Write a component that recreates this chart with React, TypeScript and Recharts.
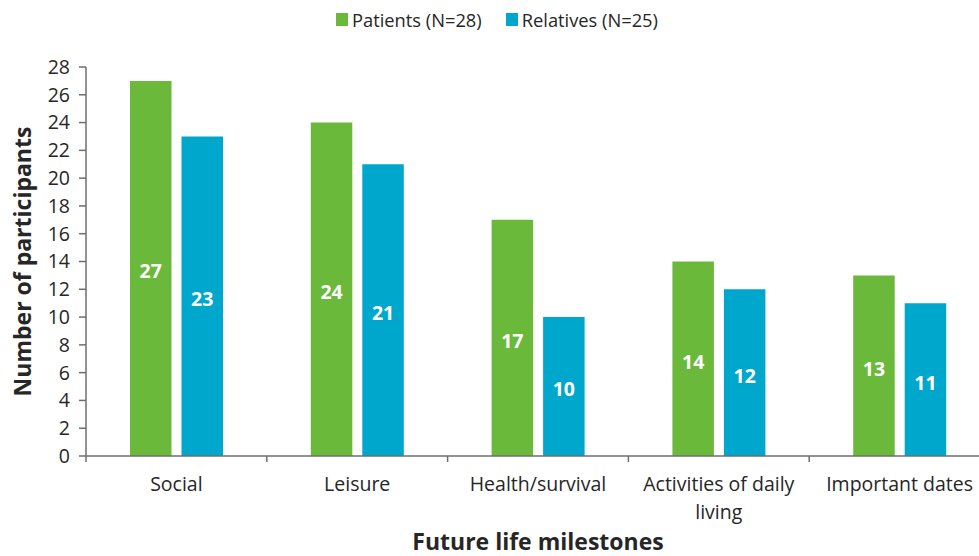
import { BarChart, Bar, XAxis, YAxis, LabelList, Label } from "recharts";

/* ------------------------------------------------------------------ */
/*  Data                                                               */
/* ------------------------------------------------------------------ */

const categories = [
  "Social",
  "Leisure",
  "Health/survival",
  "Activities of daily living",
  "Important dates",
];
const patients = [27, 24, 17, 14, 13];
const relatives = [23, 21, 10, 12, 11];
const yTicks = [0, 2, 4, 6, 8, 10, 12, 14, 16, 18, 20, 22, 24, 26, 28];

const seriesNames = { patients: "Patients (N=28)", relatives: "Relatives (N=25)" };

const GREEN = "#6bb93a";
const BLUE = "#00a7cc";
const AXIS = "#6e6e6e";
const TEXT = "#262626";
const FONT = "'Open Sans', sans-serif";

const data = categories.map((name, i) => ({
  name,
  patients: patients[i],
  relatives: relatives[i],
}));

// greedy word wrap by character count
function wrapWords(label: string, maxChars: number): string[] {
  const lines: string[] = [];
  let cur = "";
  for (const w of label.split(" ")) {
    const next = cur ? cur + " " + w : w;
    if (next.length > maxChars && cur) {
      lines.push(cur);
      cur = w;
    } else {
      cur = next;
    }
  }
  if (cur) lines.push(cur);
  return lines;
}

/* ------------------------------------------------------------------ */
/*  Category tick: boundary tick mark + wrapped label                  */
/* ------------------------------------------------------------------ */

function CategoryTick(props: any) {
  const { x, y, payload } = props;
  const half = payload?.offset ?? 0;
  const lines = wrapWords(String(payload.value), 20);
  return (
    <g>
      <line x1={x - half} x2={x - half} y1={y} y2={y + 6} stroke={AXIS} strokeWidth={1.5} />
      <text
        x={x}
        y={y + 35}
        textAnchor="middle"
        fill={TEXT}
        style={{ fontFamily: FONT, fontSize: 19.5 }}
      >
        {lines.map((ln, i) => (
          <tspan key={i} x={x} dy={i === 0 ? 0 : 28}>
            {ln}
          </tspan>
        ))}
      </text>
    </g>
  );
}

function LegendItem({ color, label }: { color: string; label: string }) {
  return (
    <div style={{ display: "flex", alignItems: "center", gap: 4 }}>
      <span style={{ width: 12, height: 13, background: color, display: "inline-block" }} />
      <span style={{ fontSize: 18.3, color: TEXT }}>{label}</span>
    </div>
  );
}

export default function App() {
  return (
    <div style={{ position: "relative", width: 992, height: 556, fontFamily: FONT }}>
      <style>{`body{margin:0;overflow:hidden}`}</style>

      {/* ---- Legend ---- */}
      <div
        style={{
          position: "absolute",
          top: 7,
          left: 0,
          width: 994,
          display: "flex",
          justifyContent: "center",
          gap: 24,
        }}
      >
        <LegendItem color={GREEN} label={seriesNames.patients} />
        <LegendItem color={BLUE} label={seriesNames.relatives} />
      </div>

      {/* ---- Chart ---- */}
      <BarChart
        width={992}
        height={556}
        data={data}
        margin={{ top: 67, right: 2, bottom: 0, left: 0 }}
        barGap={10}
        barSize={41.5}
      >
        <XAxis
          dataKey="name"
          height={100}
          interval={0}
          tick={<CategoryTick />}
          tickLine={false}
          tickSize={0}
          tickMargin={0}
          axisLine={{ stroke: AXIS, strokeWidth: 1.5 }}
        >
          <Label
            content={({ viewBox }: any) => (
              <text
                x={viewBox.x + viewBox.width / 2}
                y={viewBox.y + 94}
                textAnchor="middle"
                fill={TEXT}
                style={{ fontFamily: FONT, fontSize: 23, fontWeight: 700 }}
              >
                Future life milestones
              </text>
            )}
          />
        </XAxis>
        <YAxis
          width={86}
          domain={[0, 28]}
          ticks={yTicks}
          interval={0}
          tickSize={7}
          tickMargin={9}
          tick={{ fill: TEXT, fontSize: 19.5, fontFamily: FONT }}
          tickLine={{ stroke: AXIS, strokeWidth: 1.5 }}
          axisLine={{ stroke: AXIS, strokeWidth: 1.5 }}
        >
          <Label
            content={({ viewBox }: any) => {
              const cx = 22;
              const cy = viewBox.y + viewBox.height / 2;
              return (
                <text
                  x={cx}
                  y={cy}
                  textAnchor="middle"
                  dominantBaseline="central"
                  transform={`rotate(-90 ${cx} ${cy})`}
                  fill={TEXT}
                  style={{ fontFamily: FONT, fontSize: 23, fontWeight: 700 }}
                >
                  Number of participants
                </text>
              );
            }}
          />
        </YAxis>

        <Bar dataKey="patients" fill={GREEN} isAnimationActive={false}>
          <LabelList
            dataKey="patients"
            position="center"
            fill="#ffffff"
            dy={3}
            style={{ fontFamily: FONT, fontSize: 19.5, fontWeight: 700 }}
          />
        </Bar>
        <Bar dataKey="relatives" fill={BLUE} isAnimationActive={false}>
          <LabelList
            dataKey="relatives"
            position="center"
            fill="#ffffff"
            dy={3}
            style={{ fontFamily: FONT, fontSize: 19.5, fontWeight: 700 }}
          />
        </Bar>
      </BarChart>
    </div>
  );
}
